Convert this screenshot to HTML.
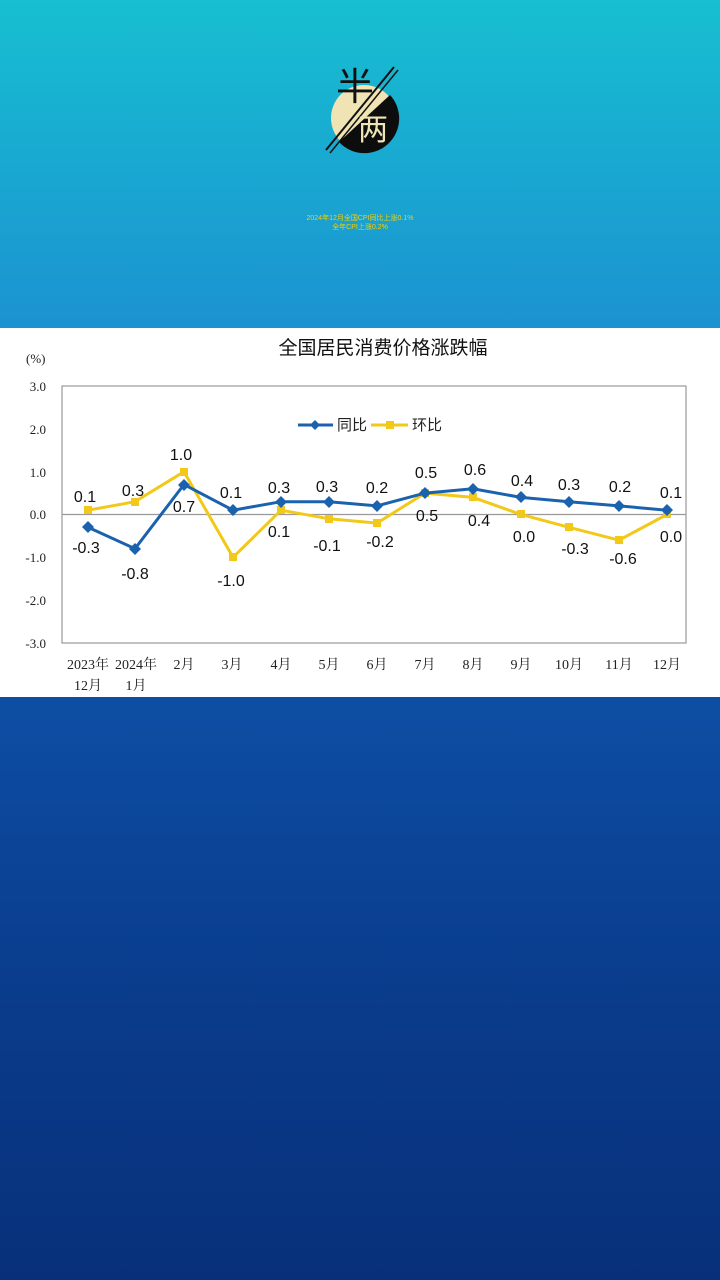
<!DOCTYPE html>
<html><head><meta charset="utf-8"><style>
html,body{margin:0;padding:0;width:720px;height:1280px;overflow:hidden}
body{position:relative;background:linear-gradient(#0c4aa0,#08307c);font-family:"Liberation Sans","Noto Sans CJK SC",sans-serif}
.top{position:absolute;left:0;top:0;width:720px;height:328px;background:linear-gradient(#17bfd1,#1b92d1)}
.bot{position:absolute;left:0;top:697px;width:720px;height:583px;background:linear-gradient(#0d4ea4 0%,#0a3c8c 50%,#08307a 100%)}
.cap{position:absolute;left:0;width:720px;text-align:center;color:#f5d000;font-size:7px;line-height:9px}
</style></head><body>
<div class="top">
<svg width="720" height="328" style="position:absolute;left:0;top:0">
<circle cx="364" cy="118" r="33" fill="#f0e4b4"/>
<path d="M390 95 A33 33 0 0 1 339 142 Z" fill="#0d0d0d"/>
<line x1="326" y1="150" x2="394" y2="67" stroke="#111" stroke-width="2"/>
<line x1="330" y1="153" x2="398" y2="70" stroke="#111" stroke-width="1.5"/>
<text x="336" y="100" font-size="38" fill="#111" font-family="Noto Sans CJK SC,sans-serif">半</text>
<text x="358" y="140" font-size="30" fill="#f0e4b4" font-family="Noto Sans CJK SC,sans-serif">两</text>
</svg>
<div class="cap" style="top:214px">2024年12月全国CPI同比上涨0.1%<br>全年CPI上涨0.2%</div>
</div>
<div style="position:absolute;left:0;top:328px;width:720px;height:369px;background:#fff"></div>
<svg width="720" height="1280" style="position:absolute;left:0;top:0" font-family="Liberation Serif,serif">
<text x="383" y="354" font-size="19" text-anchor="middle" font-family="Liberation Sans,Noto Sans CJK SC,sans-serif" fill="#111">全国居民消费价格涨跌幅</text>
<text x="26" y="363" font-size="13" fill="#222">(%)</text>
<rect x="62" y="386" width="624" height="257" fill="none" stroke="#999" stroke-width="1.2"/>
<line x1="62" y1="514.5" x2="686" y2="514.5" stroke="#999" stroke-width="1.2"/>
<g font-size="13" fill="#222" text-anchor="end">
<text x="46" y="391">3.0</text><text x="46" y="434">2.0</text><text x="46" y="477">1.0</text><text x="46" y="519">0.0</text><text x="46" y="562">-1.0</text><text x="46" y="605">-2.0</text><text x="46" y="648">-3.0</text>
</g>
<g font-size="14" fill="#222" text-anchor="middle" font-family="Liberation Serif,Noto Serif CJK SC,serif">
<text x="88" y="669">2023年</text><text x="88" y="690">12月</text>
<text x="136" y="669">2024年</text><text x="136" y="690">1月</text>
<text x="184" y="669">2月</text><text x="232" y="669">3月</text><text x="281" y="669">4月</text><text x="329" y="669">5月</text><text x="377" y="669">6月</text><text x="425" y="669">7月</text><text x="473" y="669">8月</text><text x="521" y="669">9月</text><text x="569" y="669">10月</text><text x="619" y="669">11月</text><text x="667" y="669">12月</text>
</g>
<polyline fill="none" stroke="#f2c918" stroke-width="3" points="88,510.2 135,501.7 184,471.7 233,557.3 281,510.2 329,518.8 377,523.1 425,493.1 473,497.4 521,514.5 569,527.3 619,540.2 667,514.5"/>
<g fill="#f2c918"><rect x="84" y="506" width="8" height="8"/><rect x="131" y="498" width="8" height="8"/><rect x="180" y="468" width="8" height="8"/><rect x="229" y="553" width="8" height="8"/><rect x="277" y="506" width="8" height="8"/><rect x="325" y="515" width="8" height="8"/><rect x="373" y="519" width="8" height="8"/><rect x="421" y="489" width="8" height="8"/><rect x="469" y="493" width="8" height="8"/><rect x="517" y="510" width="8" height="8"/><rect x="565" y="523" width="8" height="8"/><rect x="615" y="536" width="8" height="8"/><rect x="663" y="510" width="8" height="8"/></g>
<polyline fill="none" stroke="#1b62ae" stroke-width="3" points="88,527.3 135,548.7 184,484.5 233,510.2 281,501.7 329,501.7 377,505.9 425,493.1 473,488.8 521,497.4 569,501.7 619,505.9 667,510.2"/>
<g fill="#1b62ae"><path d="M88 521l6 6-6 6-6-6z"/><path d="M135 543l6 6-6 6-6-6z"/><path d="M184 479l6 6-6 6-6-6z"/><path d="M233 504l6 6-6 6-6-6z"/><path d="M281 496l6 6-6 6-6-6z"/><path d="M329 496l6 6-6 6-6-6z"/><path d="M377 500l6 6-6 6-6-6z"/><path d="M425 487l6 6-6 6-6-6z"/><path d="M473 483l6 6-6 6-6-6z"/><path d="M521 491l6 6-6 6-6-6z"/><path d="M569 496l6 6-6 6-6-6z"/><path d="M619 500l6 6-6 6-6-6z"/><path d="M667 504l6 6-6 6-6-6z"/></g>
<g font-size="16" fill="#111" text-anchor="middle" font-family="Liberation Sans,sans-serif">
<text x="86" y="553">-0.3</text><text x="135" y="579">-0.8</text><text x="184" y="512">0.7</text><text x="231" y="498">0.1</text><text x="279" y="493">0.3</text><text x="327" y="492">0.3</text><text x="377" y="493">0.2</text><text x="426" y="478">0.5</text><text x="475" y="475">0.6</text><text x="522" y="486">0.4</text><text x="569" y="490">0.3</text><text x="620" y="492">0.2</text><text x="671" y="498">0.1</text>
<text x="85" y="502">0.1</text><text x="133" y="496">0.3</text><text x="181" y="460">1.0</text><text x="231" y="586">-1.0</text><text x="279" y="537">0.1</text><text x="327" y="551">-0.1</text><text x="380" y="547">-0.2</text><text x="427" y="521">0.5</text><text x="479" y="526">0.4</text><text x="524" y="542">0.0</text><text x="575" y="554">-0.3</text><text x="623" y="564">-0.6</text><text x="671" y="542">0.0</text>
</g>
<line x1="298" y1="425" x2="333" y2="425" stroke="#1b62ae" stroke-width="3"/><path d="M315 420l5 5-5 5-5-5z" fill="#1b62ae"/>
<text x="337" y="430" font-size="15" fill="#222" font-family="Liberation Sans,Noto Sans CJK SC,sans-serif">同比</text>
<line x1="371" y1="425" x2="408" y2="425" stroke="#f2c918" stroke-width="3"/><rect x="386" y="421" width="8" height="8" fill="#f2c918"/>
<text x="412" y="430" font-size="15" fill="#222" font-family="Liberation Sans,Noto Sans CJK SC,sans-serif">环比</text>
</svg>
<div class="bot"></div>
</body></html>
